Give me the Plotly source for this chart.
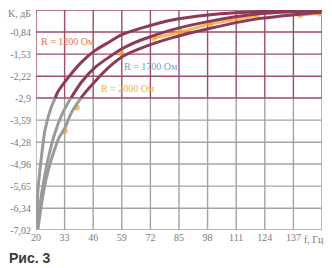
import numpy as np
import plotly.graph_objects as go

# ---- data ----
x_ticks = [20, 33, 46, 59, 72, 85, 98, 111, 124, 137]
x_max = 150
y_ticks = [-0.84, -1.53, -2.22, -2.9, -3.59, -4.28, -4.96, -5.65, -6.34, -7.02]
y_ticktext = ["-0,84", "-1,53", "-2,22", "-2,9", "-3,59", "-4,28", "-4,96", "-5,65", "-6,34", "-7,02"]
y_top = -0.153

f_1200 = [20.0, 20.9, 22.3, 24.1, 26.8, 29.9, 34.9, 40.7, 46.6, 53.3, 58.8, 67.8, 81.3, 99.3, 121.8, 149.8]
k_1200 = [-6.96, -5.77, -4.84, -3.90, -3.21, -2.71, -2.24, -1.78, -1.43, -1.15, -0.93, -0.72, -0.47, -0.30, -0.20, -0.16]

f_1700 = [20.45, 21.8, 23.6, 25.9, 28.6, 31.7, 35.3, 40.7, 46.6, 53.3, 59.7, 67.8, 81.3, 99.3, 120.5, 149.8]
k_1700 = [-6.99, -6.24, -5.46, -4.68, -3.99, -3.43, -2.96, -2.40, -1.96, -1.62, -1.34, -1.09, -0.78, -0.50, -0.28, -0.17]

f_2000 = [20.9, 22.3, 24.5, 27.2, 30.4, 33.1, 36.2, 40.7, 46.6, 53.3, 59.7, 67.8, 81.3, 99.3, 120.5, 149.8]
k_2000 = [-7.0, -6.30, -5.46, -4.77, -4.15, -3.84, -3.34, -2.87, -2.40, -1.93, -1.59, -1.34, -1.03, -0.72, -0.43, -0.22]

# orange highlighter marks on the scan
hl_f = [21.8, None, 33.1, None, 38.5, None, 58.8, None, 73.6, 85.8, 99.3, 120.5, None, 139.9, 148.9]
hl_k = [-6.18, None, -3.93, None, -3.20, None, -1.50, None, -1.03, -0.84, -0.58, -0.33, None, -0.31, -0.26]

labels = ["R = 1200 Ом", "R = 1700 Ом", "R = 2000 Ом"]
label_f = [34.4, 72.3, 61.9]
label_k = [-1.15, -1.93, -2.59]
label_colors = ["#e2704f", "#6f9fd6", "#e8b52e"]

# ---- styles ----
split_k = -2.9
maroon_grid = "#9c4d69"
gray_grid = "#a3a3a3"
maroon_line = "#8c3a58"
gray_line = "#9a9a9a"

fig = go.Figure()

def add_curve(fs, ks):
    fs = np.array(fs, float)
    ks = np.array(ks, float)
    fc = float(np.interp(split_k, ks, fs))
    lo = ks <= split_k
    hi = ks >= split_k
    f_lo = list(fs[lo]) + [fc]
    k_lo = list(ks[lo]) + [split_k]
    f_hi = [fc] + list(fs[hi])
    k_hi = [split_k] + list(ks[hi])
    fig.add_trace(go.Scatter(x=f_lo, y=k_lo, mode="lines", line=dict(color=gray_line, width=3, shape="spline", smoothing=0.8),
                             hoverinfo="skip", showlegend=False))
    fig.add_trace(go.Scatter(x=f_hi, y=k_hi, mode="lines", line=dict(color=maroon_line, width=3, shape="spline", smoothing=0.8),
                             hoverinfo="skip", showlegend=False))

fig.add_trace(go.Scatter(x=hl_f, y=hl_k, mode="lines+markers",
                         line=dict(color="rgba(245,160,40,0.75)", width=3),
                         marker=dict(color="rgba(245,165,40,0.75)", size=6),
                         hoverinfo="skip", showlegend=False))

for fs, ks in [(f_1200, k_1200), (f_1700, k_1700), (f_2000, k_2000)]:
    add_curve(fs, ks)

# grid
shapes = []
for xv in x_ticks + [x_max]:
    shapes.append(dict(type="line", x0=xv, x1=xv, y0=y_ticks[-1], y1=split_k, line=dict(color=gray_grid, width=1.4), layer="below"))
    shapes.append(dict(type="line", x0=xv, x1=xv, y0=split_k, y1=y_top, line=dict(color=maroon_grid, width=1.4), layer="below"))
for yv in y_ticks + [y_top]:
    c = maroon_grid if yv >= split_k else gray_grid
    shapes.append(dict(type="line", x0=x_ticks[0], x1=x_max, y0=yv, y1=yv, line=dict(color=c, width=1.4), layer="below"))

annotations = []
for t, fx, ky, c in zip(labels, label_f, label_k, label_colors):
    annotations.append(dict(x=fx, y=ky, text=t, showarrow=False, font=dict(family="Liberation Serif", size=10, color=c)))
annotations.append(dict(xref="paper", yref="paper", x=0, y=1, xanchor="right", yanchor="middle", xshift=-3, yshift=-3,
                        text="K, дБ", showarrow=False, font=dict(family="Liberation Serif", size=10, color="#7a7a7a")))
annotations.append(dict(xref="paper", yref="paper", x=1, y=0, xanchor="right", yanchor="top", yshift=-2, xshift=4,
                        text="f, Гц", showarrow=False, font=dict(family="Liberation Serif", size=10, color="#7a7a7a")))
annotations.append(dict(xref="paper", yref="paper", x=-0.1, y=0, xanchor="left", yanchor="top", yshift=-18,
                        text="<b>Рис. 3</b>", showarrow=False, font=dict(family="Liberation Sans", size=14, color="#3a3a3a")))

fig.update_layout(
    width=332, height=268,
    margin=dict(l=33, r=10, t=10, b=38),
    paper_bgcolor="white", plot_bgcolor="white",
    shapes=shapes, annotations=annotations,
    xaxis=dict(range=[x_ticks[0], x_max], tickvals=x_ticks, ticktext=[str(v) for v in x_ticks],
               showgrid=False, zeroline=False, showline=False, ticks="",
               tickfont=dict(family="Liberation Serif", size=10, color="#7a7a7a")),
    yaxis=dict(range=[y_ticks[-1], y_top], tickvals=y_ticks, ticktext=y_ticktext,
               showgrid=False, zeroline=False, showline=False, ticks="", ticklabelstandoff=4,
               tickfont=dict(family="Liberation Serif", size=10, color="#7a7a7a")),
)

fig.write_html("out.html")
